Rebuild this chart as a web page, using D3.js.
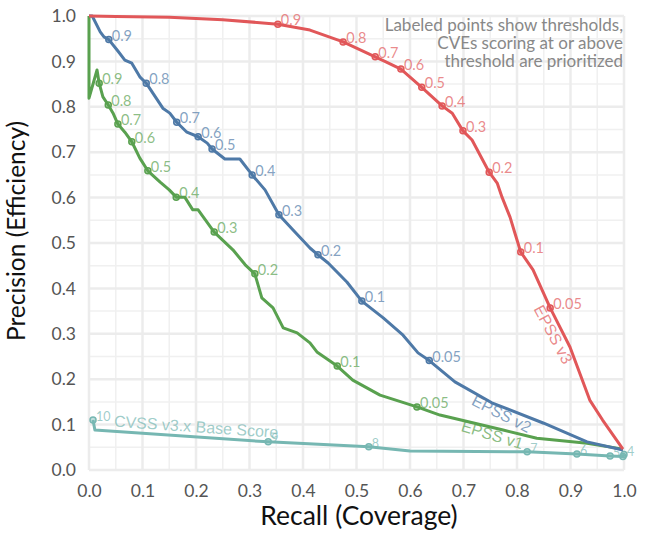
<!DOCTYPE html>
<html>
<head>
<meta charset="utf-8">
<script src="https://cdn.jsdelivr.net/npm/d3@7"></script>
<style>
  body { margin: 0; background: #fff; }
  svg { display: block; }
</style>
</head>
<body>
<div id="chart"></div>
<script>
// EPSS v3 curve (recall, precision)
const v3Recall    = [0, 0.05, 0.15, 0.25, 0.353, 0.413, 0.475, 0.535, 0.555, 0.583, 0.622, 0.660, 0.679, 0.699, 0.716, 0.748, 0.763, 0.772, 0.787, 0.796, 0.807, 0.830, 0.862, 0.899, 0.936, 0.960, 0.998];
const v3Precision = [1.0, 0.999, 0.997, 0.992, 0.982, 0.969, 0.943, 0.910, 0.899, 0.883, 0.843, 0.802, 0.786, 0.747, 0.727, 0.656, 0.632, 0.601, 0.557, 0.522, 0.480, 0.441, 0.357, 0.271, 0.154, 0.110, 0.046];
const v3ThrRecall    = [0.353, 0.475, 0.535, 0.583, 0.622, 0.660, 0.699, 0.748, 0.807, 0.862];
const v3ThrPrecision = [0.982, 0.943, 0.910, 0.883, 0.843, 0.802, 0.747, 0.656, 0.480, 0.357];
const v3ThrLabels    = ["0.9", "0.8", "0.7", "0.6", "0.5", "0.4", "0.3", "0.2", "0.1", "0.05"];

// EPSS v2 curve
const v2Recall    = [0, 0.006, 0.021, 0.028, 0.037, 0.054, 0.067, 0.080, 0.095, 0.107, 0.138, 0.151, 0.164, 0.183, 0.204, 0.221, 0.230, 0.254, 0.282, 0.305, 0.329, 0.355, 0.381, 0.413, 0.428, 0.447, 0.482, 0.510, 0.550, 0.587, 0.615, 0.636, 0.684, 0.753, 0.850, 0.931, 0.998];
const v2Precision = [1.0, 1.0, 0.965, 0.954, 0.948, 0.923, 0.903, 0.896, 0.866, 0.852, 0.797, 0.786, 0.766, 0.744, 0.734, 0.720, 0.707, 0.685, 0.685, 0.650, 0.617, 0.562, 0.529, 0.489, 0.474, 0.456, 0.414, 0.372, 0.335, 0.297, 0.258, 0.241, 0.194, 0.148, 0.103, 0.062, 0.044];
const v2ThrRecall    = [0.037, 0.107, 0.164, 0.204, 0.230, 0.305, 0.355, 0.428, 0.510, 0.636];
const v2ThrPrecision = [0.948, 0.852, 0.766, 0.734, 0.707, 0.650, 0.562, 0.474, 0.372, 0.241];
const v2ThrLabels    = ["0.9", "0.8", "0.7", "0.6", "0.5", "0.4", "0.3", "0.2", "0.1", "0.05"];

// EPSS v1 curve
const v1Recall    = [0, 0, 0.015, 0.019, 0.026, 0.036, 0.045, 0.054, 0.067, 0.080, 0.095, 0.110, 0.133, 0.150, 0.163, 0.179, 0.194, 0.204, 0.234, 0.269, 0.292, 0.310, 0.323, 0.344, 0.363, 0.389, 0.413, 0.426, 0.464, 0.493, 0.544, 0.613, 0.656, 0.774, 0.837, 0.931, 0.998];
const v1Precision = [1.0, 0.819, 0.881, 0.852, 0.822, 0.804, 0.786, 0.762, 0.744, 0.723, 0.687, 0.659, 0.634, 0.617, 0.601, 0.601, 0.573, 0.573, 0.524, 0.485, 0.452, 0.432, 0.379, 0.357, 0.313, 0.302, 0.280, 0.260, 0.229, 0.198, 0.165, 0.139, 0.121, 0.088, 0.070, 0.059, 0.046];
const v1ThrRecall    = [0.019, 0.036, 0.054, 0.080, 0.110, 0.163, 0.234, 0.310, 0.464, 0.613];
const v1ThrPrecision = [0.852, 0.804, 0.762, 0.723, 0.659, 0.601, 0.524, 0.432, 0.229, 0.139];
const v1ThrLabels    = ["0.9", "0.8", "0.7", "0.6", "0.5", "0.4", "0.3", "0.2", "0.1", "0.05"];

// CVSS v3.x base score curve
const cvRecall    = [0.0075, 0.011, 0.335, 0.523, 0.600, 0.819, 0.912, 0.974, 0.998, 1.0];
const cvPrecision = [0.110, 0.088, 0.062, 0.051, 0.042, 0.040, 0.035, 0.031, 0.030, 0.034];
const cvThrRecall    = [0.0075, 0.335, 0.523, 0.819, 0.912, 0.974, 0.998, 1.0];
const cvThrPrecision = [0.110, 0.062, 0.051, 0.040, 0.035, 0.031, 0.030, 0.034];
const cvThrLabels    = ["10", "9", "8", "7", "6", "5", "", "4"];

const tickValues = [0, 0.1, 0.2, 0.3, 0.4, 0.5, 0.6, 0.7, 0.8, 0.9, 1.0];
const minorTicks = [0.05, 0.15, 0.25, 0.35, 0.45, 0.55, 0.65, 0.75, 0.85, 0.95];
const noteLines = ["Labeled points show thresholds,", "CVEs scoring at or above", "threshold are prioritized"];

const width = 650, height = 533;
const svg = d3.select("#chart").append("svg").attr("width", width).attr("height", height);

const x = d3.scaleLinear().domain([0, 1]).range([89, 624]);
const y = d3.scaleLinear().domain([0, 1]).range([470, 16]);

const font = "'Source Sans Pro', Lato, sans-serif";

// grid
const grid = svg.append("g");
grid.selectAll(".vminor").data(minorTicks).enter().append("line")
  .attr("x1", d => x(d)).attr("x2", d => x(d)).attr("y1", y(0)).attr("y2", y(1))
  .attr("stroke", "#f0f0f0").attr("stroke-width", 1.5);
grid.selectAll(".hminor").data(minorTicks).enter().append("line")
  .attr("y1", d => y(d)).attr("y2", d => y(d)).attr("x1", x(0)).attr("x2", x(1))
  .attr("stroke", "#f0f0f0").attr("stroke-width", 1.5);
grid.selectAll(".vmajor").data(tickValues).enter().append("line")
  .attr("x1", d => x(d)).attr("x2", d => x(d)).attr("y1", y(0)).attr("y2", y(1))
  .attr("stroke", "#ececec").attr("stroke-width", 2.5);
grid.selectAll(".hmajor").data(tickValues).enter().append("line")
  .attr("y1", d => y(d)).attr("y2", d => y(d)).attr("x1", x(0)).attr("x2", x(1))
  .attr("stroke", "#ececec").attr("stroke-width", 2.5);

// axes (labels only)
const xAxis = svg.append("g").attr("transform", "translate(0," + y(0) + ")")
  .call(d3.axisBottom(x).tickValues(tickValues).tickFormat(d3.format(".1f")).tickSize(0).tickPadding(15));
const yAxis = svg.append("g").attr("transform", "translate(" + x(0) + ",0)")
  .call(d3.axisLeft(y).tickValues(tickValues).tickFormat(d3.format(".1f")).tickSize(0).tickPadding(13));
[xAxis, yAxis].forEach(a => {
  a.select(".domain").remove();
  a.selectAll("text").attr("font-family", font).attr("font-size", "17.5px").attr("fill", "#555");
});

svg.append("text")
  .attr("x", 359).attr("y", 525)
  .attr("text-anchor", "middle")
  .attr("font-family", font).attr("font-size", "26.5px").attr("fill", "#111")
  .text("Recall (Coverage)");

svg.append("text")
  .attr("transform", "translate(25,231) rotate(-90)")
  .attr("text-anchor", "middle")
  .attr("font-family", font).attr("font-size", "24.5px").attr("fill", "#111")
  .text("Precision (Efficiency)");

// note
svg.append("g").selectAll("text").data(noteLines).enter().append("text")
  .attr("x", 623).attr("y", (d, i) => 31 + i * 18)
  .attr("text-anchor", "end")
  .attr("font-family", font).attr("font-size", "17px").attr("fill", "#888")
  .text(d => d);

const line = d3.line().x(d => x(d[0])).y(d => y(d[1]));

function draw_series(rec, prec, thrRec, thrPrec, thrLab, color, labelSize)
{
  let pts = rec.map((r, i) => [r, prec[i]]);
  svg.append("path")
    .datum(pts)
    .attr("d", line)
    .attr("fill", "none")
    .attr("stroke", color)
    .attr("stroke-width", 3)
    .attr("stroke-linejoin", "round");

  let thr = thrRec.map((r, i) => ({r: r, p: thrPrec[i], label: thrLab[i]}));
  let g = svg.append("g");
  g.selectAll("circle").data(thr).enter().append("circle")
    .attr("cx", d => x(d.r)).attr("cy", d => y(d.p)).attr("r", 3)
    .attr("fill", color).attr("fill-opacity", 0.45)
    .attr("stroke", color).attr("stroke-width", 1.5);
  g.selectAll("text").data(thr.filter(d => d.label !== "")).enter().append("text")
    .attr("x", d => x(d.r) + 3).attr("y", d => y(d.p) + 1)
    .attr("font-family", font).attr("font-size", labelSize)
    .attr("fill", color).attr("fill-opacity", 0.7)
    .text(d => d.label);
}

draw_series(cvRecall, cvPrecision, cvThrRecall, cvThrPrecision, cvThrLabels, "#76b7b2", "12.5px");
draw_series(v1Recall, v1Precision, v1ThrRecall, v1ThrPrecision, v1ThrLabels, "#59a14f", "14.5px");
draw_series(v2Recall, v2Precision, v2ThrRecall, v2ThrPrecision, v2ThrLabels, "#4e79a7", "14.5px");
draw_series(v3Recall, v3Precision, v3ThrRecall, v3ThrPrecision, v3ThrLabels, "#e15759", "14.5px");

// series names along the curves
function series_name(txt, cx, cy, angle, color)
{
  svg.append("text")
    .attr("transform", "translate(" + cx + "," + cy + ") rotate(" + angle + ")")
    .attr("text-anchor", "middle")
    .attr("dominant-baseline", "middle")
    .attr("font-family", "'Liberation Sans', Arial, sans-serif")
    .attr("font-size", "16px")
    .attr("fill", color).attr("fill-opacity", 0.7)
    .text(txt);
}
series_name("EPSS v3", 552, 335, 62, "#e15759");
series_name("EPSS v2", 501, 415, 27, "#4e79a7");
series_name("EPSS v1", 492, 436, 17, "#59a14f");
series_name("CVSS v3.x Base Score", 196, 428, 3.9, "#76b7b2");
</script>
</body>
</html>
